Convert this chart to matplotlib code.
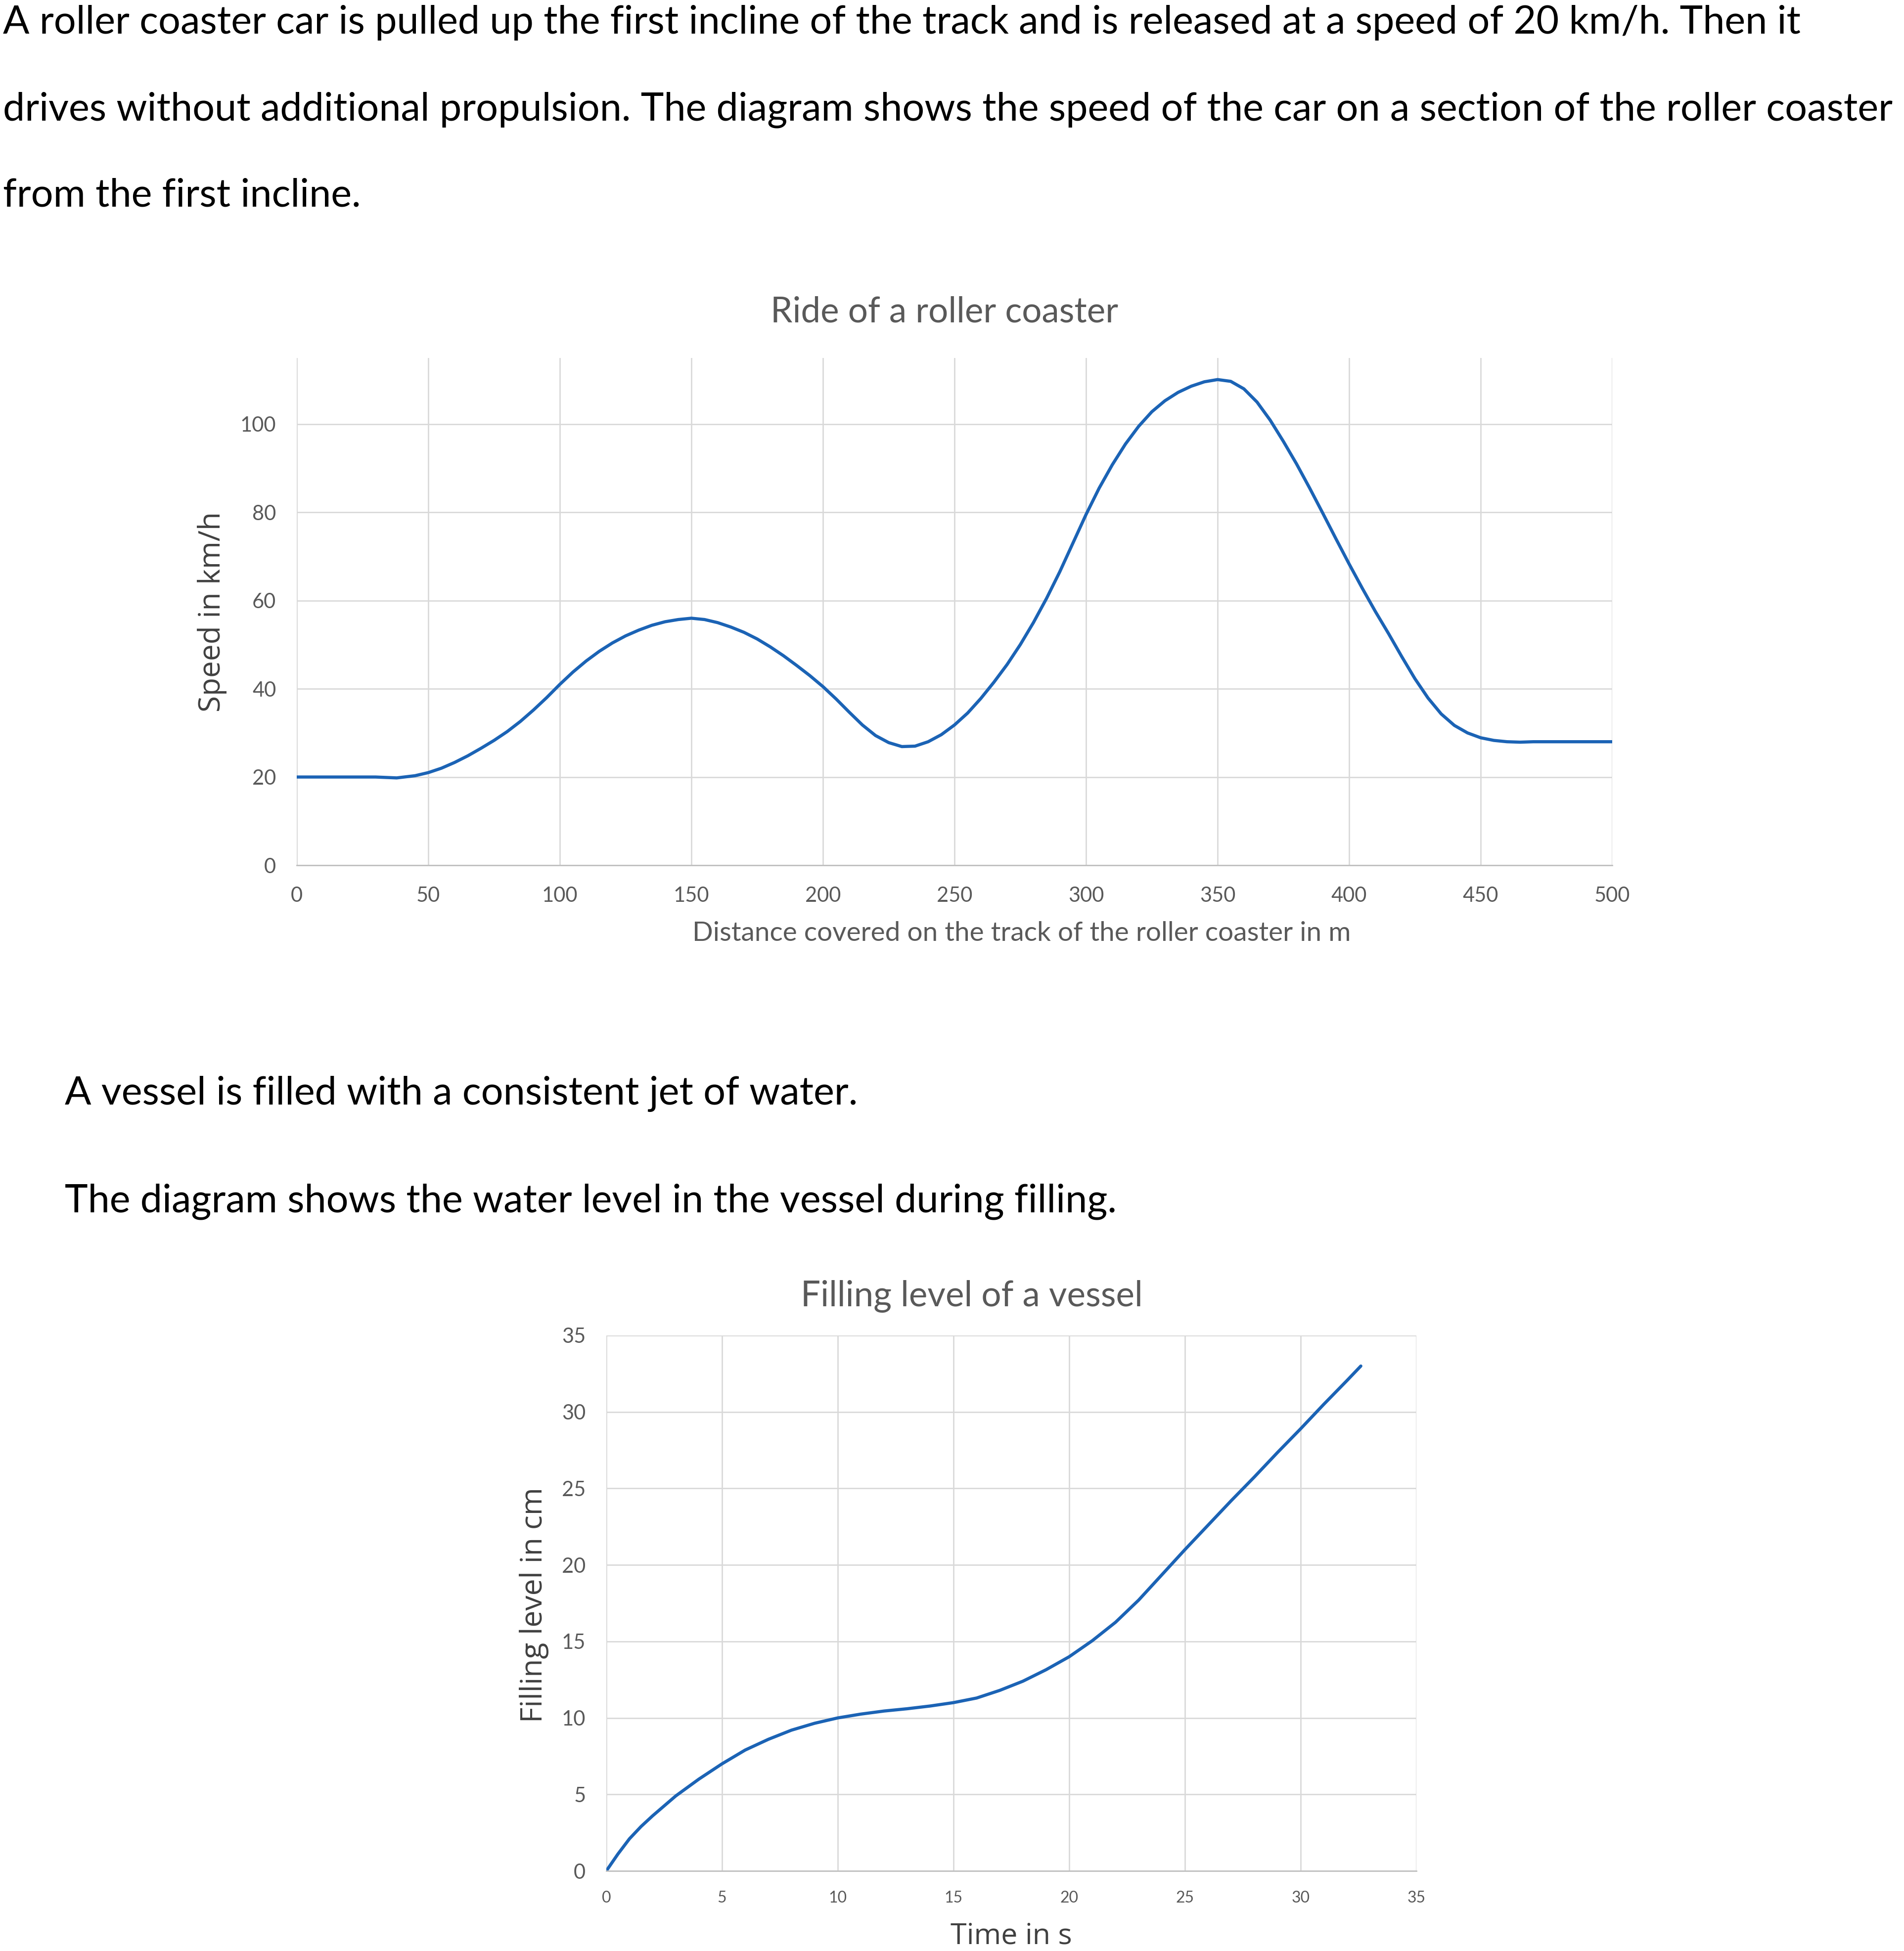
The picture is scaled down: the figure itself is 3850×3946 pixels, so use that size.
import matplotlib
matplotlib.use("Agg")
import matplotlib.pyplot as plt

# roller coaster: distance in m vs speed in km/h
ride_dist = [0, 10, 20, 30, 38, 45, 50, 55, 60, 65, 70, 75, 80, 85, 90, 95,
             100, 105, 110, 115, 120, 125, 130, 135, 140, 145, 150, 155, 160,
             165, 170, 175, 180, 185, 190, 195, 200, 205, 210, 215, 220, 225,
             230, 235, 240, 245, 250, 255, 260, 265, 270, 275, 280, 285, 290,
             295, 300, 305, 310, 315, 320, 325, 330, 335, 340, 345, 350, 355,
             360, 365, 370, 375, 380, 385, 390, 395, 400, 405, 410, 415, 420,
             425, 430, 435, 440, 445, 450, 455, 460, 465, 470, 480, 490, 500]
ride_speed = [20, 20, 20, 20, 19.8, 20.3, 21, 22, 23.3, 24.8, 26.5, 28.3, 30.3,
              32.6, 35.2, 38.0, 41.0, 43.8, 46.3, 48.5, 50.4, 52.0, 53.3, 54.4,
              55.2, 55.7, 56.0, 55.7, 55.0, 54.0, 52.8, 51.3, 49.5, 47.5, 45.3,
              43.0, 40.5, 37.7, 34.7, 31.8, 29.4, 27.8, 26.9, 27.0, 28.0, 29.6,
              31.8, 34.5, 37.8, 41.5, 45.5, 50.0, 55.0, 60.5, 66.5, 73.0, 79.5,
              85.5, 90.8, 95.5, 99.5, 102.8, 105.3, 107.2, 108.6, 109.6, 110.1,
              109.7, 108.0, 105.0, 100.9, 96.1, 91.0, 85.5, 79.8, 74.0, 68.3,
              62.8, 57.5, 52.5, 47.3, 42.3, 37.9, 34.3, 31.7, 30.0, 28.9, 28.3,
              28.0, 27.9, 28.0, 28.0, 28.0, 28.0]

# vessel: time in s vs filling level in cm
fill_time = [0, 0.5, 1, 1.5, 2, 3, 4, 5, 6, 7, 8, 9, 10, 11, 12, 13, 14, 15,
             16, 17, 18, 19, 20, 21, 22, 23, 24, 25, 26, 27, 28, 29, 30, 31,
             32, 32.6]
fill_level = [0, 1.1, 2.1, 2.9, 3.6, 4.9, 6.0, 7.0, 7.9, 8.6, 9.2, 9.65, 10.0,
              10.25, 10.45, 10.6, 10.78, 11.0, 11.3, 11.8, 12.4, 13.15, 14.0,
              15.05, 16.25, 17.7, 19.35, 21.0, 22.6, 24.2, 25.75, 27.35, 28.9,
              30.5, 32.05, 33.0]

ride_xticks = [0, 50, 100, 150, 200, 250, 300, 350, 400, 450, 500]
ride_yticks = [0, 20, 40, 60, 80, 100]
fill_ticks = [0, 5, 10, 15, 20, 25, 30, 35]

W, H = 3850, 3946
plt.rcParams['font.family'] = ['Lato', 'DejaVu Sans']

fig = plt.figure(figsize=(W / 100, H / 100), dpi=100)
fig.patch.set_facecolor("white")

def ftext(x, y, s, **kw):
    # place text by pixel position in the full-size picture
    fig.text(x / W, 1 - y / H, s, **kw)

body = dict(fontsize=57, color="black", va="baseline", ha="left")
ftext(6, 68, "A roller coaster car is pulled up the first incline of the track "
      "and is released at a speed of 20 km/h. Then it", **body)
ftext(6, 243, "drives without additional propulsion. The diagram shows the speed "
      "of the car on a section of the roller coaster", **body)
ftext(6, 418, "from the first incline.", **body)
ftext(131, 2234, "A vessel is filled with a consistent jet of water.", **body)
ftext(131, 2451, "The diagram shows the water level in the vessel during filling.", **body)

grid_col = "#d9d9d9"
txt_col = "#595959"
line_col = "#1b63b5"


def style_axes(ax):
    for side in ["top", "right", "left"]:
        ax.spines[side].set_visible(False)
    ax.spines["bottom"].set_color("#bfbfbf")
    ax.spines["bottom"].set_linewidth(2)
    ax.grid(True, color=grid_col, linewidth=2)
    ax.set_axisbelow(True)
    ax.tick_params(length=0, colors=txt_col)


# ---- top chart ----
ax1 = fig.add_axes([600 / W, 1 - 1750 / H, 2660 / W, 1026 / H])
ax1.plot(ride_dist, ride_speed, color=line_col, linewidth=4.6,
         solid_capstyle="round", solid_joinstyle="round")
ax1.set_xlim(0, 500)
ax1.set_ylim(0, 115)
ax1.set_xticks(ride_xticks)
ax1.set_yticks(ride_yticks)
style_axes(ax1)
ax1.tick_params(axis="x", labelsize=30, pad=31)
ax1.tick_params(axis="y", labelsize=30, pad=30)
ax1.set_xlabel("Distance covered on the track of the roller coaster in m",
               fontsize=39.6, color=txt_col)
ax1.xaxis.set_label_coords(0.551, -0.11)
ax1.set_ylabel("Speed in km/h", fontsize=43.5, color="#404040", family="Open Sans")
ax1.yaxis.set_label_coords(-0.053, 0.5)
ftext(1910, 652, "Ride of a roller coaster", fontsize=51, color=txt_col,
      ha="center", va="baseline")

# ---- bottom chart ----
ax2 = fig.add_axes([1226 / W, 1 - 3784 / H, 1638 / W, 1083 / H])
ax2.plot(fill_time, fill_level, color=line_col, linewidth=4.6,
         solid_capstyle="round", solid_joinstyle="round")
ax2.set_xlim(0, 35)
ax2.set_ylim(0, 35)
ax2.set_xticks(fill_ticks)
ax2.set_yticks(fill_ticks)
style_axes(ax2)
ax2.tick_params(axis="x", labelsize=23, pad=29)
ax2.tick_params(axis="y", labelsize=30, pad=30)
ax2.set_xlabel("Time in s", fontsize=42.7, color="#404040", family="Open Sans")
ax2.xaxis.set_label_coords(0.5, -0.095)
ax2.set_ylabel("Filling level in cm", fontsize=43.7, color="#404040",
               family="Open Sans")
ax2.yaxis.set_label_coords(-0.071, 0.497)
ftext(1965, 2642, "Filling level of a vessel", fontsize=51, color=txt_col,
      ha="center", va="baseline")

fig.savefig("out.png", dpi=100, facecolor="white")
